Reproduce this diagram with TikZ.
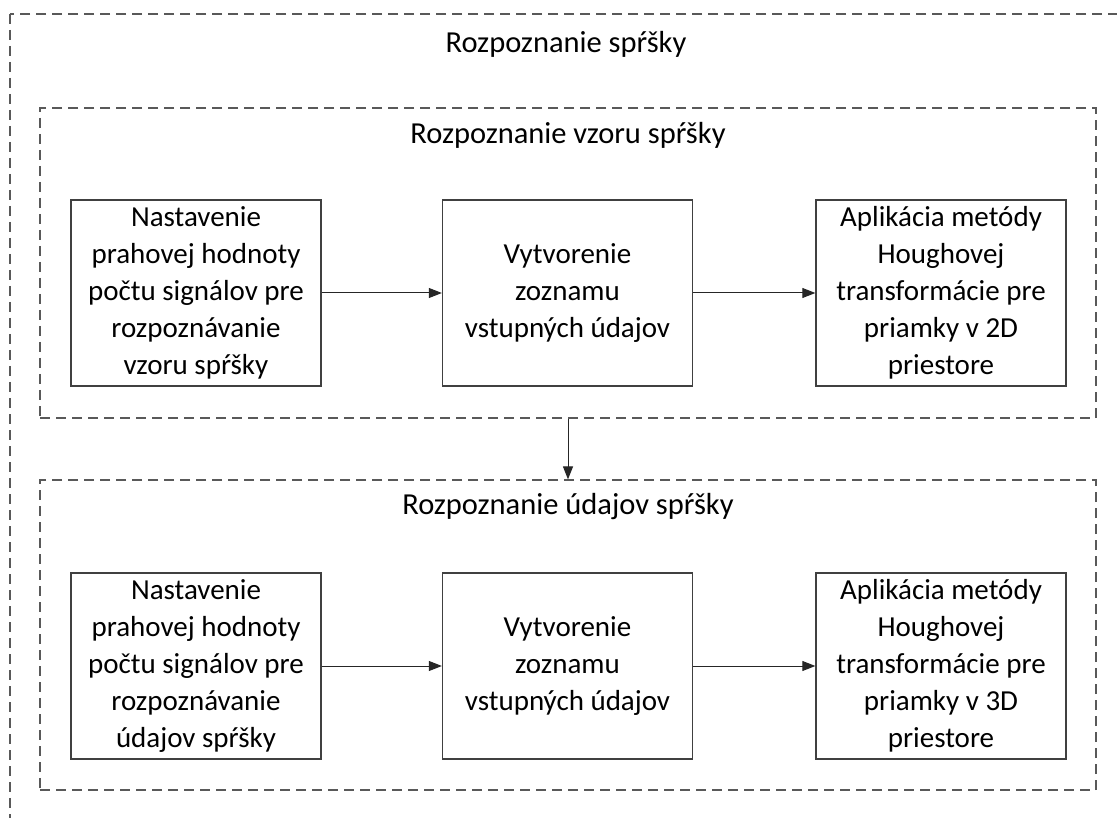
\documentclass[tikz,border=0pt]{standalone}
\usepackage{fontspec}
\setmainfont{Carlito}
\usetikzlibrary{arrows.meta}
\tikzset{
  krok/.style={draw=black!75, line width=1.3pt, minimum width=250pt, minimum height=186pt,
    align=center, inner sep=0pt, font=\fontsize{29}{37}\selectfont},
  ramec/.style={draw=black!65, line width=1.2pt, dash pattern=on 10pt off 6pt,
    minimum width=1056pt, minimum height=310pt, inner sep=0pt},
  nadpis/.style={font=\fontsize{30.5}{36}\selectfont, inner sep=0pt},
  sipka/.style={-{Triangle[length=13pt,width=10pt]}, line width=1pt, draw=black!85}
}
\begin{document}
\begin{tikzpicture}[x=1pt,y=-1pt]
\useasboundingbox (0,0) rectangle (1117,818);

% vonkajsi ramec
\draw [draw=black!65, line width=1.2pt, dash pattern=on 10pt off 6pt] (10,14) rectangle (1135,835);
\node[nadpis] (spraska) at (566,44) {Rozpoznanie spŕšky};

% vzor
\node[ramec] (vzor) at (568,263) {};
\node[nadpis] (vzornadpis) at (568,135) {Rozpoznanie vzoru spŕšky};
\node[krok] (vprah) at (196,293) {Nastavenie\\prahovej hodnoty\\počtu signálov pre\\rozpoznávanie\\vzoru spŕšky};
\node[krok] (vzoznam) at (567.5,293) {Vytvorenie\\zoznamu\\vstupných údajov};
\node[krok] (vhough) at (941,293) {Aplikácia metódy\\Houghovej\\transformácie pre\\priamky v 2D\\priestore};
\draw[sipka] (vprah) -- (vzoznam);
\draw[sipka] (vzoznam) -- (vhough);

% udaje
\node[ramec] (udaje) at (568,635) {};
\node[nadpis] (udajenadpis) at (568,507) {Rozpoznanie údajov spŕšky};
\node[krok] (uprah) at (196,666) {Nastavenie\\prahovej hodnoty\\počtu signálov pre\\rozpoznávanie\\údajov spŕšky};
\node[krok] (uzoznam) at (567.5,666) {Vytvorenie\\zoznamu\\vstupných údajov};
\node[krok] (uhough) at (941,666) {Aplikácia metódy\\Houghovej\\transformácie pre\\priamky v 3D\\priestore};
\draw[sipka] (uprah) -- (uzoznam);
\draw[sipka] (uzoznam) -- (uhough);

\draw[sipka] (vzor) -- (udaje);
\end{tikzpicture}
\end{document}
